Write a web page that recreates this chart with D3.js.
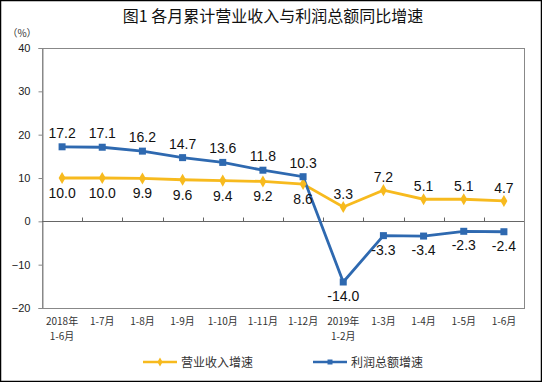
<!DOCTYPE html>
<html>
  <head>
    <meta charset="utf-8">
    <title></title>
    <style>
      body, html{
        margin: 0;
        background: #fff;
      }
      svg text{
        font-family: Arial, "Liberation Sans", "Noto Sans CJK SC", sans-serif;
      }
      .cjk{
        font-family: "Noto Sans CJK SC", sans-serif;
      }
    </style>
  </head>
  <body>
    <svg id="chart" width="542" height="382"></svg>
    <script src="https://cdnjs.cloudflare.com/ajax/libs/d3/7.8.5/d3.min.js" charset="utf-8"></script>
    <script>
      var categories = [['2018年', '1-6月'], ['1-7月'], ['1-8月'], ['1-9月'], ['1-10月'], ['1-11月'],
        ['1-12月'], ['2019年', '1-2月'], ['1-3月'], ['1-4月'], ['1-5月'], ['1-6月']]
      var revenue = [10.0, 10.0, 9.9, 9.6, 9.4, 9.2, 8.6, 3.3, 7.2, 5.1, 5.1, 4.7]
      var profit = [17.2, 17.1, 16.2, 14.7, 13.6, 11.8, 10.3, -14.0, -3.3, -3.4, -2.3, -2.4]
      var yTicks = [-20, -10, 0, 10, 20, 30, 40]
      var seriesNames = ['营业收入增速', '利润总额增速']

      var orange = '#F7BA1E', blue = '#2E69B0'
      var plotL = 42, plotR = 524, plotT = 48, plotB = 308
      var svg = d3.select('#chart')

      // outer frame
      svg.append('rect').attr('x', 0.5).attr('y', 0.5).attr('width', 541).attr('height', 381)
        .attr('fill', 'none').attr('stroke', '#000').attr('stroke-width', 1.5)

      svg.append('text').attr('class', 'cjk').attr('x', 273).attr('y', 22)
        .attr('text-anchor', 'middle').attr('font-size', 16).attr('fill', '#111')
        .text('图1  各月累计营业收入与利润总额同比增速')

      var x = d3.scaleBand().domain(d3.range(categories.length)).range([plotL, plotR])
      var y = d3.scaleLinear().domain([-20, 40]).range([plotB, plotT])
      var cx = function(i){ return x(i) + x.bandwidth() / 2 }

      // plot frame
      svg.append('rect').attr('x', plotL + 0.5).attr('y', plotT + 0.5)
        .attr('width', plotR - plotL).attr('height', plotB - plotT)
        .attr('fill', 'none').attr('stroke', '#888')

      // y axis
      var yAxis = svg.append('g').attr('transform', 'translate(' + (plotL + 0.5) + ',0)')
        .call(d3.axisLeft(y).tickValues(yTicks).tickSize(4).tickPadding(8).tickFormat(d3.format('d')))
      yAxis.select('.domain').attr('stroke', '#888')
      yAxis.selectAll('.tick line').attr('stroke', '#888')
      yAxis.selectAll('.tick text').attr('font-size', 11).attr('fill', '#222')

      svg.append('text').attr('class', 'cjk').attr('x', 22).attr('y', 37)
        .attr('text-anchor', 'middle').attr('font-size', 10).attr('fill', '#333').text('（%）')

      // zero line with ticks at band boundaries
      var zero = Math.round(y(0)) + 0.5
      svg.append('line').attr('x1', plotL).attr('x2', plotR).attr('y1', zero).attr('y2', zero)
        .attr('stroke', '#666')
      svg.selectAll('.xt').data(d3.range(1, categories.length)).enter().append('line')
        .attr('x1', function(i){ return Math.round(x(i)) + 0.5 })
        .attr('x2', function(i){ return Math.round(x(i)) + 0.5 })
        .attr('y1', zero).attr('y2', zero - 4).attr('stroke', '#666')

      // x labels, one text per line
      var xlines = []
      categories.forEach(function(c, i){
        c.forEach(function(s, j){ xlines.push({s: s, i: i, j: j}) })
      })
      svg.selectAll('.xl').data(xlines).enter().append('text')
        .attr('class', 'cjk').attr('text-anchor', 'middle').attr('font-size', 10).attr('fill', '#333')
        .attr('x', function(d){ return cx(d.i) })
        .attr('y', function(d){ return 325 + d.j * 14.5 })
        .text(function(d){ return d.s })

      var line = d3.line().x(function(d, i){ return cx(i) }).y(function(d){ return y(d) })

      svg.append('path').datum(revenue).attr('d', line).attr('fill', 'none')
        .attr('stroke', orange).attr('stroke-width', 2.8)
      svg.append('path').datum(profit).attr('d', line).attr('fill', 'none')
        .attr('stroke', blue).attr('stroke-width', 2.8)

      var diamond = d3.symbol().type(d3.symbolDiamond).size(42)
      svg.selectAll('.rm').data(revenue).enter().append('path')
        .attr('d', diamond).attr('fill', orange)
        .attr('transform', function(d, i){ return 'translate(' + cx(i) + ',' + y(d) + ')' })
      svg.selectAll('.pm').data(profit).enter().append('rect')
        .attr('width', 7).attr('height', 7).attr('fill', blue)
        .attr('x', function(d, i){ return cx(i) - 3.5 })
        .attr('y', function(d){ return y(d) - 3.5 })

      // data labels
      svg.selectAll('.pl').data(profit).enter().append('text')
        .attr('text-anchor', 'middle').attr('font-size', 14).attr('fill', '#111')
        .attr('x', function(d, i){ return cx(i) })
        .attr('y', function(d){ return y(d) + (d < 0 ? 19 : -9) })
        .text(function(d){ return d.toFixed(1) })
      svg.selectAll('.rl').data(revenue).enter().append('text')
        .attr('text-anchor', 'middle').attr('font-size', 14).attr('fill', '#111')
        .attr('x', function(d, i){ return cx(i) })
        .attr('y', function(d, i){ return y(d) + (i < 7 ? 20 : -8) })
        .text(function(d){ return d.toFixed(1) })

      // legend
      var legend = [{name: seriesNames[0], color: orange, x: 143, type: 'd'},
                    {name: seriesNames[1], color: blue, x: 313, type: 's'}]
      var lg = svg.selectAll('.lg').data(legend).enter().append('g')
        .attr('transform', function(d){ return 'translate(' + d.x + ',362)' })
      lg.append('line').attr('x1', 0).attr('x2', 34).attr('stroke', function(d){ return d.color })
        .attr('stroke-width', 2.5)
      lg.append('path').attr('d', function(d){
          return d.type === 'd' ? d3.symbol().type(d3.symbolDiamond).size(24)() : 'M-2.5,-2.5h5v5h-5z'
        })
        .attr('transform', 'translate(17,0)').attr('fill', function(d){ return d.color })
      lg.append('text').attr('class', 'cjk').attr('x', 38).attr('y', 4.5)
        .attr('font-size', 12).attr('fill', '#333').text(function(d){ return d.name })
    </script>
  </body>
</html>
